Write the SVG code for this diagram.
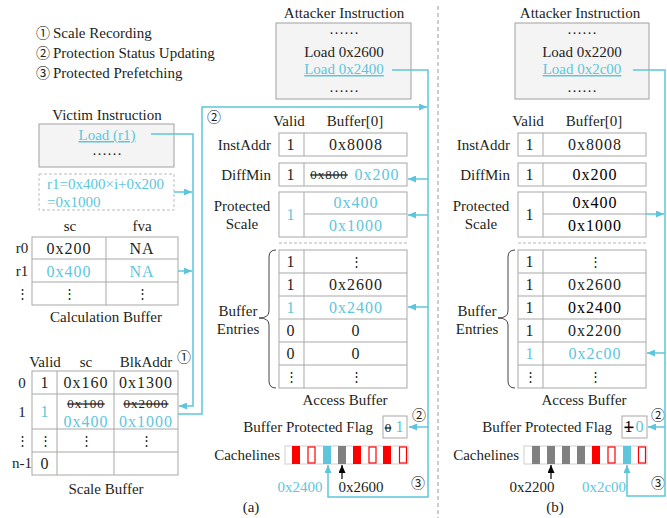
<svg xmlns="http://www.w3.org/2000/svg" width="667" height="518" viewBox="0 0 667 518">
<defs>
<style>
text{font-family:"Liberation Serif","DejaVu Serif","Noto Sans CJK SC",serif;font-size:15px;fill:#231f20}
.m{text-anchor:middle}
.e{text-anchor:end}
.v{font-size:16px;letter-spacing:1px;text-anchor:middle}
.s{font-size:13px;letter-spacing:1px;text-anchor:middle;text-decoration:line-through}
.d{font-size:13px;text-anchor:middle}
.c{fill:#5ec6dc}
.k{fill:#000}
.n{font-family:"Noto Sans CJK SC","DejaVu Sans",sans-serif;font-size:14px;text-anchor:middle}
.cell{fill:none;stroke:#a8a8a8;stroke-width:1}
.ibox{fill:#f4f4f4;stroke:#a0a0a0;stroke-width:1}
.wire{fill:none;stroke:#5ec6dc;stroke-width:1.5}
.blk{fill:none;stroke:#000;stroke-width:1.2}
.red{fill:#ff0000}
.ro{fill:#fff;stroke:#ff0000;stroke-width:1.2}
.gr{fill:#808080}
.cy{fill:#5ec6dc}
</style>
<marker id="ac" viewBox="0 0 8 7" refX="8" refY="3.5" markerWidth="8" markerHeight="7" markerUnits="userSpaceOnUse" orient="auto"><path d="M0,0L8,3.5L0,7z" fill="#5ec6dc"/></marker>
<marker id="ak" viewBox="0 0 8 7" refX="8" refY="3.5" markerWidth="8" markerHeight="7" markerUnits="userSpaceOnUse" orient="auto"><path d="M0,0L8,3.5L0,7z" fill="#000"/></marker>
</defs>
<rect width="667" height="518" fill="#fff"/>

<g id="legend">
<text class="n" x="43" y="38">①</text><text x="53" y="38">Scale Recording</text>
<text class="n" x="43" y="58">②</text><text x="53" y="58">Protection Status Updating</text>
<text class="n" x="43" y="78">③</text><text x="53" y="78">Protected Prefetching</text>
</g>

<line x1="438" y1="6" x2="438" y2="518" stroke="#9a9a9a" stroke-width="1" stroke-dasharray="4,3"/>

<g id="victim">
<text class="m" x="107" y="120">Victim Instruction</text>
<rect class="ibox" x="39" y="124" width="135" height="43"/>
<text class="m c" x="107" y="140" text-decoration="underline">Load (r1)</text>
<text class="m" x="107" y="155">……</text>
</g>

<g id="formula">
<rect x="39" y="174" width="135" height="36" fill="#fff" stroke="#bdbdbd" stroke-dasharray="3,2"/>
<text class="c" x="47" y="189">r1=0x400×i+0x200</text>
<text class="c" x="47" y="207">=0x1000</text>
</g>

<g id="calc-buffer">
<text class="m" x="70" y="231">sc</text>
<text class="m" x="142" y="231">fva</text>
<rect class="cell" x="32" y="237" width="146" height="68"/>
<path class="cell" d="M32,259H178M32,282H178M106,237V305"/>
<text class="m" x="22" y="253">r0</text>
<text class="m" x="22" y="276">r1</text>
<text class="d" x="22" y="298">⋮</text>
<text class="v" x="69" y="254">0x200</text>
<text class="v" x="142" y="254">NA</text>
<text class="v c" x="69" y="277">0x400</text>
<text class="v c" x="142" y="277">NA</text>
<text class="d" x="69" y="298">⋮</text>
<text class="d" x="142" y="298">⋮</text>
<text class="m" x="106" y="322">Calculation Buffer</text>
</g>

<g id="scale-buffer">
<text class="m" x="45" y="367">Valid</text>
<text class="m" x="86" y="367">sc</text>
<text class="m" x="146" y="367">BlkAddr</text>
<text class="n" x="184" y="362">①</text>
<rect class="cell" x="32" y="371" width="146" height="104"/>
<path class="cell" d="M32,394H178M32,429H178M32,452H178M57,371V475M114,371V475"/>
<text class="m" x="22" y="388">0</text>
<text class="m" x="22" y="417">1</text>
<text class="d" x="22" y="445">⋮</text>
<text class="m" x="22" y="468">n-1</text>
<text class="v" x="45" y="388">1</text>
<text class="v" x="86" y="388">0x160</text>
<text class="v" x="146" y="388">0x1300</text>
<text class="v c" x="45" y="417">1</text>
<text class="s" x="86" y="408">0x100</text>
<text class="v c" x="86" y="427">0x400</text>
<text class="s" x="146" y="408">0x2000</text>
<text class="v c" x="146" y="427">0x1000</text>
<text class="d" x="45" y="445">⋮</text>
<text class="d" x="86" y="445">⋮</text>
<text class="d" x="146" y="445">⋮</text>
<text class="v" x="45" y="469">0</text>
<text class="m" x="106" y="494">Scale Buffer</text>
</g>

<g id="attacker-a">
<text class="m" x="344" y="18">Attacker Instruction</text>
<rect class="ibox" x="276" y="23" width="135" height="76"/>
<text class="m" x="344" y="34">……</text>
<text class="m" x="344" y="57">Load 0x2600</text>
<text class="m c" x="344" y="74" text-decoration="underline">Load 0x2400</text>
<text class="m" x="344" y="92">……</text>
</g>

<g id="access-a">
<text class="n" x="214" y="122">②</text>
<text class="m" x="289" y="126">Valid</text>
<text class="m" x="355" y="126">Buffer[0]</text>
<text class="e" x="271" y="150">InstAddr</text>
<text class="e" x="271" y="180">DiffMin</text>
<text class="m" x="242" y="211">Protected</text>
<text class="m" x="242" y="229">Scale</text>
<rect class="cell" x="279" y="133" width="128" height="23"/>
<rect class="cell" x="279" y="163" width="128" height="23"/>
<rect class="cell" x="279" y="192" width="128" height="45"/>
<path class="cell" d="M304,133V156M304,163V186M304,192V237M304,214H407"/>
<line x1="279" y1="243" x2="407" y2="243" stroke="#b5b5b5" stroke-dasharray="3,2"/>
<text class="v" x="291" y="150">1</text>
<text class="v" x="356" y="150">0x8008</text>
<text class="v" x="291" y="180">1</text>
<text class="s" x="329" y="179">0x800</text>
<text class="v c" x="377" y="180">0x200</text>
<text class="v c" x="291" y="220">1</text>
<text class="v c" x="356" y="208">0x400</text>
<text class="v c" x="356" y="231">0x1000</text>
<path d="M276,250Q269,250 269,257V311Q269,318 259,318Q269,318 269,325V381Q269,388 276,388" fill="none" stroke="#444" stroke-width="1"/>
<text class="m" x="238" y="316">Buffer</text>
<text class="m" x="238" y="334">Entries</text>
<rect class="cell" x="279" y="250" width="128" height="138"/>
<path class="cell" d="M279,273H407M279,296H407M279,319H407M279,342H407M279,365H407M304,250V388"/>
<text class="v" x="291" y="267">1</text><text class="d" x="356" y="266">⋮</text>
<text class="v" x="291" y="290">1</text><text class="v" x="356" y="290">0x2600</text>
<text class="v c" x="291" y="313">1</text><text class="v c" x="356" y="313">0x2400</text>
<text class="v" x="291" y="336">0</text><text class="v" x="356" y="336">0</text>
<text class="v" x="291" y="359">0</text><text class="v" x="356" y="359">0</text>
<text class="d" x="291" y="381">⋮</text><text class="d" x="356" y="381">⋮</text>
<text class="m" x="345" y="405">Access Buffer</text>
</g>

<g id="flag-a">
<text class="e" x="373" y="432">Buffer Protected Flag</text>
<rect x="383" y="416" width="24" height="22" fill="#fff" stroke="#a8a8a8"/>
<text class="d" x="388" y="432" text-decoration="line-through">0</text>
<text class="v c" x="400" y="432">1</text>
<text class="n" x="419" y="420">②</text>
</g>

<g id="cachelines-a">
<text class="e" x="280" y="460">Cachelines</text>
<rect x="285" y="446" width="123" height="18" fill="#fff" stroke="#cfcfcf"/>
<rect class="red" x="292" y="446" width="8" height="18"/>
<rect class="ro" x="308" y="447" width="7" height="16"/>
<rect class="cy" x="323" y="446" width="8" height="18"/>
<rect class="gr" x="338" y="446" width="8" height="18"/>
<rect class="red" x="353" y="446" width="8" height="18"/>
<rect class="ro" x="369" y="447" width="7" height="16"/>
<rect class="red" x="383" y="446" width="8" height="18"/>
<rect class="ro" x="399.5" y="447" width="7" height="16"/>
<text class="m c" x="300" y="492">0x2400</text>
<text class="m" x="361" y="492">0x2600</text>
<text class="n" x="418" y="488">③</text>
<text class="m" x="251" y="512">(a)</text>
</g>

<g id="attacker-b">
<text class="m" x="580" y="18">Attacker Instruction</text>
<rect class="ibox" x="515" y="23" width="134" height="76"/>
<text class="m" x="582" y="34">……</text>
<text class="m" x="582" y="57">Load 0x2200</text>
<text class="m c" x="582" y="74" text-decoration="underline">Load 0x2c00</text>
<text class="m" x="582" y="92">……</text>
</g>

<g id="access-b" transform="translate(239,0)">
<text class="m" x="289" y="126">Valid</text>
<text class="m" x="355" y="126">Buffer[0]</text>
<text class="e" x="271" y="150">InstAddr</text>
<text class="e" x="271" y="180">DiffMin</text>
<text class="m" x="242" y="211">Protected</text>
<text class="m" x="242" y="229">Scale</text>
<rect class="cell" x="279" y="133" width="128" height="23"/>
<rect class="cell" x="279" y="163" width="128" height="23"/>
<rect class="cell" x="279" y="192" width="128" height="45"/>
<path class="cell" d="M304,133V156M304,163V186M304,192V237M304,214H407"/>
<line x1="279" y1="243" x2="407" y2="243" stroke="#b5b5b5" stroke-dasharray="3,2"/>
<text class="v" x="291" y="150">1</text>
<text class="v" x="356" y="150">0x8008</text>
<text class="v" x="291" y="180">1</text>
<text class="v k" x="356" y="180">0x200</text>
<text class="v" x="291" y="220">1</text>
<text class="v k" x="356" y="208">0x400</text>
<text class="v k" x="356" y="231">0x1000</text>
<path d="M276,250Q269,250 269,257V311Q269,318 259,318Q269,318 269,325V381Q269,388 276,388" fill="none" stroke="#444" stroke-width="1"/>
<text class="m" x="238" y="316">Buffer</text>
<text class="m" x="238" y="334">Entries</text>
<rect class="cell" x="279" y="250" width="128" height="138"/>
<path class="cell" d="M279,273H407M279,296H407M279,319H407M279,342H407M279,365H407M304,250V388"/>
<text class="v" x="291" y="267">1</text><text class="d" x="356" y="266">⋮</text>
<text class="v" x="291" y="290">1</text><text class="v" x="356" y="290">0x2600</text>
<text class="v" x="291" y="313">1</text><text class="v k" x="356" y="313">0x2400</text>
<text class="v" x="291" y="336">1</text><text class="v" x="356" y="336">0x2200</text>
<text class="v c" x="291" y="359">1</text><text class="v c" x="356" y="359">0x2c00</text>
<text class="d" x="291" y="381">⋮</text><text class="d" x="356" y="381">⋮</text>
<text class="m" x="345" y="405">Access Buffer</text>
</g>

<g id="flag-b">
<text class="e" x="612" y="432">Buffer Protected Flag</text>
<rect x="622" y="416" width="25" height="22" fill="#fff" stroke="#a8a8a8"/>
<text class="v k" x="629" y="432" text-decoration="line-through">1</text>
<text class="v c" x="640" y="432">0</text>
<text class="n" x="658" y="420">②</text>
</g>

<g id="cachelines-b">
<text class="e" x="519" y="460">Cachelines</text>
<rect x="524" y="446" width="123" height="18" fill="#fff" stroke="#cfcfcf"/>
<rect class="gr" x="532" y="446" width="8" height="18"/>
<rect class="gr" x="547" y="446" width="8" height="18"/>
<rect class="gr" x="562" y="446" width="8" height="18"/>
<rect class="gr" x="577" y="446" width="8" height="18"/>
<rect class="red" x="592" y="446" width="8" height="18"/>
<rect class="ro" x="608" y="447" width="7" height="16"/>
<rect class="cy" x="623" y="446" width="8" height="18"/>
<rect class="ro" x="638.5" y="447" width="7" height="16"/>
<text class="m" x="532" y="492">0x2200</text>
<text class="m c" x="604" y="492">0x2c00</text>
<text class="n" x="658" y="488">③</text>
<text class="m" x="555" y="512">(b)</text>
</g>

<g id="connectors">
<path class="wire" d="M151,134H193V406H179" marker-end="url(#ac)"/>
<path class="wire" d="M174,192H192" marker-end="url(#ac)"/>
<path class="wire" d="M178,271H192" marker-end="url(#ac)"/>
<path class="wire" d="M178,414H202V107H427" marker-end="url(#ac)"/>
<path class="wire" d="M392,70H428V497H328V465" marker-end="url(#ac)"/>
<path class="wire" d="M428,179H408" marker-end="url(#ac)"/>
<path class="wire" d="M428,215H408" marker-end="url(#ac)"/>
<path class="wire" d="M428,307H408" marker-end="url(#ac)"/>
<path class="wire" d="M428,427H409" marker-end="url(#ac)"/>
<path class="blk" d="M342,479V465" marker-end="url(#ak)"/>
<path class="wire" d="M633,70H665V496H627V465" marker-end="url(#ac)"/>
<path class="wire" d="M646,214H664" marker-end="url(#ac)"/>
<path class="wire" d="M665,353H647" marker-end="url(#ac)"/>
<path class="wire" d="M665,427H648" marker-end="url(#ac)"/>
<path class="blk" d="M551,479V465" marker-end="url(#ak)"/>
</g>
</svg>
